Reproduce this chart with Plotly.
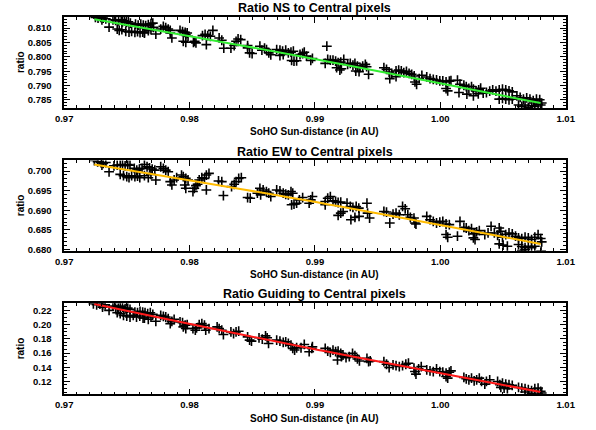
import plotly.graph_objects as go

# ---------------- Data ----------------
ns_x = [0.97249,0.97270,0.97291,0.97311,0.97332,0.97301,0.97389,0.97410,0.97358,
        0.97434,0.97455,0.97465,0.97481,0.97496,0.97512,0.97528,0.97423,0.97439,0.97460,
        0.97491,0.97517,0.97538,0.97564,0.97585,0.97605,0.97626,0.97640,
        0.97569,0.97590,0.97611,0.97631,0.97650,0.97671,0.97692,0.97707,
        0.97640,0.97671,0.97692,0.97713,0.97731,0.97770,0.97791,0.97810,0.97830,0.97846,
        0.97859,0.97846,0.97924,0.97944,0.97965,0.97981,0.97970,0.97988,0.97950,0.97970,
        0.98031,0.98051,0.98041,0.98103,0.98124,0.98145,0.98166,0.98186,0.98134,
        0.98236,0.98257,0.98273,0.98330,0.98356,0.98371,0.98387,0.98408,
        0.98463,0.98479,0.98499,0.98463,0.98561,0.98577,0.98598,0.98614,0.98632,0.98648,
        0.98695,0.98721,0.98742,0.98767,0.98788,0.98809,0.98828,0.98721,0.98747,
        0.98814,0.98833,0.98854,
        0.98881,0.98902,0.98915,0.98933,0.98967,0.98980,0.99095,
        0.99082,0.99102,0.99123,0.99144,0.99165,0.99185,0.99206,0.99230,
        0.99173,0.99199,0.99211,
        0.99261,0.99282,0.99303,0.99319,0.99339,0.99360,0.99381,0.99402,0.99412,
        0.99326,0.99352,0.99428,
        0.99550,0.99571,0.99592,0.99613,
        0.99647,0.99668,0.99689,0.99709,0.99730,0.99751,0.99772,0.99792,
        0.99597,0.99647,0.99798,0.99811,0.99832,0.99853,
        0.99892,0.99918,0.99944,0.99970,0.99996,1.00020,1.00046,1.00072,1.00085,
        1.00046,1.00059,1.00137,1.00157,
        1.00188,1.00207,1.00228,1.00249,1.00264,1.00285,1.00306,1.00322,
        1.00149,1.00212,1.00264,1.00303,1.00342,1.00368,1.00394,
        1.00418,1.00444,1.00470,1.00496,1.00522,1.00548,1.00574,
        1.00470,1.00496,1.00522,1.00548,1.00574,
        1.00611,1.00637,1.00663,1.00689,1.00715,1.00741,1.00767,1.00793,
        1.00624,1.00650,1.00676,1.00702,1.00728,1.00754,1.00780,1.00801,1.00809]
ns_y = [0.81368,0.81345,0.81368,0.81345,0.81322,0.81287,0.81287,0.81264,0.81034,
        0.81253,0.81287,0.81218,0.81253,0.81195,0.81218,0.81172,0.80966,0.80920,0.80943,
        0.80885,0.80862,0.80885,0.80851,0.80874,0.80839,0.80862,0.80828,
        0.81138,0.81103,0.81138,0.81103,0.81080,0.81115,0.81149,0.81172,
        0.80851,0.80908,0.80943,0.81023,0.80793,0.80966,0.81057,0.81011,0.80966,0.80920,
        0.80655,0.80828,0.80920,0.80874,0.80851,0.80828,0.80770,0.80713,0.80540,0.80506,
        0.80506,0.80483,0.80540,0.80736,0.80782,0.80736,0.80713,0.80920,0.80425,
        0.80655,0.80575,0.80299,0.80299,0.80391,0.80540,0.80621,0.80598,
        0.80310,0.80138,0.80115,0.80391,0.80368,0.80230,0.80299,0.80253,0.80138,0.80069,
        0.80253,0.80230,0.80195,0.80230,0.80138,0.80161,0.80195,0.80046,0.80080,
        0.79874,0.79851,0.79862,
        0.80080,0.80115,0.80161,0.80023,0.79874,0.79943,0.80368,
        0.79770,0.79908,0.79885,0.79885,0.79851,0.79793,0.79816,0.79908,
        0.79621,0.79540,0.79586,
        0.79736,0.79770,0.79713,0.79770,0.79678,0.79632,0.79678,0.79736,0.79655,
        0.79506,0.79483,0.79391,
        0.79621,0.79563,0.79471,0.79425,
        0.79506,0.79540,0.79506,0.79448,0.79494,0.79425,0.79391,0.79333,
        0.79241,0.79310,0.79126,0.79046,0.79241,0.79356,
        0.79299,0.79241,0.79218,0.79195,0.79161,0.79161,0.79126,0.79149,0.79172,
        0.78897,0.78816,0.79184,0.79046,
        0.79011,0.78966,0.78897,0.78966,0.78874,0.78816,0.78851,0.78908,
        0.78759,0.78701,0.78644,0.78713,0.78736,0.78759,0.78805,
        0.78851,0.78805,0.78851,0.78874,0.78851,0.78816,0.78782,
        0.78529,0.78552,0.78529,0.78506,0.78529,
        0.78644,0.78586,0.78529,0.78575,0.78529,0.78471,0.78529,0.78506,
        0.78322,0.78276,0.78322,0.78241,0.78299,0.78276,0.78345,0.78322,0.78391]
ns_fit_x = [0.9724, 0.9888, 1.0080]
ns_fit_y = [0.8131, 0.8002, 0.7839]

ew_x = [0.97241,0.97267,0.97293,0.97311,0.97332,0.97301,0.97358,
        0.97397,0.97423,0.97447,0.97465,0.97486,0.97507,0.97525,
        0.97447,0.97473,0.97499,0.97517,0.97538,0.97564,0.97585,0.97603,
        0.97559,0.97579,0.97600,0.97621,0.97640,0.97661,0.97681,0.97702,0.97723,
        0.97640,0.97671,0.97692,0.97731,
        0.97770,0.97791,0.97810,0.97830,
        0.97846,0.97859,0.97877,0.97897,
        0.97936,0.97950,0.97970,0.97988,0.97962,0.97970,
        0.98027,0.98038,0.98051,0.98064,
        0.98077,0.98098,0.98119,0.98134,0.98155,0.98134,
        0.98231,0.98257,0.98270,
        0.98335,0.98356,0.98371,0.98392,0.98413,
        0.98463,0.98484,0.98541,0.98567,
        0.98561,0.98587,0.98613,0.98632,0.98648,
        0.98695,0.98721,0.98747,0.98767,0.98788,0.98809,0.98823,
        0.98814,0.98833,0.98854,
        0.98876,0.98902,0.98954,0.98967,0.98980,
        0.99082,0.99102,0.99123,0.99144,0.99165,0.99185,0.99206,0.99082,
        0.99185,0.99206,0.99225,
        0.99256,0.99282,0.99303,0.99329,0.99350,
        0.99287,0.99319,0.99352,
        0.99415,0.99420,0.99436,
        0.99550,0.99571,0.99597,0.99623,0.99647,0.99673,0.99699,0.99720,0.99741,0.99761,
        0.99790,0.99798,0.99806,
        0.99892,0.99918,0.99944,0.99970,0.99996,1.00020,1.00046,1.00072,
        1.00046,1.00059,1.00137,1.00157,
        1.00188,1.00207,1.00228,1.00249,1.00270,1.00290,1.00311,
        1.00264,1.00277,
        1.00355,1.00381,1.00405,1.00431,1.00457,
        1.00470,1.00483,1.00496,1.00522,1.00548,1.00574,
        1.00470,1.00501,1.00535,
        1.00600,1.00624,1.00650,1.00676,1.00702,1.00728,1.00754,1.00780,1.00801,1.00809,
        1.00624,1.00650,1.00676,1.00702,1.00728,1.00754,
        1.00650,1.00676,1.00804]
ew_y = [0.70270,0.70236,0.70219,0.70194,0.70219,0.70152,0.69983,
        0.70135,0.70152,0.70152,0.70169,0.70135,0.70169,0.70152,
        0.69916,0.69882,0.69857,0.69831,0.69882,0.69857,0.69873,0.69831,
        0.70068,0.70025,0.70051,0.70068,0.70169,0.70110,0.70084,0.70051,0.70025,
        0.69882,0.69831,0.69916,0.69772,
        0.70110,0.70068,0.70025,0.69983,
        0.69730,0.69646,0.69772,0.69831,
        0.69899,0.69857,0.69814,0.69772,0.69646,0.69561,
        0.69477,0.69561,0.69629,0.69662,
        0.69772,0.69831,0.69814,0.69899,0.69941,0.69519,
        0.69747,0.69730,0.69376,
        0.69603,0.69662,0.69730,0.69814,0.69831,
        0.69325,0.69308,0.69435,0.69392,
        0.69561,0.69519,0.69477,0.69435,0.69350,
        0.69519,0.69494,0.69435,0.69409,0.69392,0.69477,0.69435,
        0.69139,0.69156,0.69181,
        0.69266,0.69325,0.69181,0.69266,0.69350,
        0.69224,0.69308,0.69350,0.69240,0.69224,0.69198,0.69207,0.69139,
        0.68869,0.68928,0.68970,
        0.69181,0.69097,0.69072,0.69097,0.69055,
        0.68759,0.68819,0.68844,
        0.69181,0.68928,0.68802,
        0.68970,0.68954,0.68675,0.68903,0.68928,0.68886,0.69097,0.69038,0.68886,0.68819,
        0.68802,0.68675,0.68650,
        0.68844,0.68759,0.68717,0.68675,0.68700,0.68717,0.68650,0.68633,
        0.68380,0.68312,0.68338,0.68717,
        0.68565,0.68548,0.68481,0.68532,0.68397,0.68447,0.68481,
        0.68295,0.68253,
        0.68380,0.68422,0.68591,0.68422,0.68363,
        0.68548,0.68464,0.68312,0.68380,0.68422,0.68397,
        0.68143,0.68110,0.68084,
        0.68338,0.68295,0.68278,0.68312,0.68295,0.68253,0.68312,0.68380,0.68278,0.68194,
        0.68127,0.68076,0.68042,0.68084,0.68042,0.68084,
        0.67975,0.67992,0.67958]
ew_fit_x = [0.9724, 0.9888, 1.0080]
ew_fit_y = [0.7017, 0.6928, 0.6814]

gd_x = [0.97233,0.97259,0.97285,0.97306,0.97327,0.97306,0.97358,
        0.97389,0.97410,0.97431,0.97447,0.97465,0.97486,0.97507,0.97525,
        0.97423,0.97447,0.97473,0.97499,0.97525,0.97551,0.97577,0.97603,0.97629,
        0.97564,0.97585,0.97605,0.97626,0.97645,0.97666,0.97687,0.97707,
        0.97640,0.97671,0.97692,0.97731,
        0.97770,0.97791,0.97810,0.97830,
        0.97846,0.97859,0.97877,
        0.97924,0.97944,0.97965,0.97981,0.97950,0.97970,
        0.98027,0.98046,0.98056,0.98077,0.98098,0.98119,0.98129,0.98155,
        0.98220,0.98236,0.98257,0.98270,
        0.98330,0.98351,0.98371,0.98392,
        0.98463,0.98479,0.98494,
        0.98554,0.98580,0.98606,0.98619,0.98630,
        0.98695,0.98721,0.98747,0.98767,0.98788,0.98809,
        0.98823,0.98838,0.98854,
        0.98889,0.98915,0.98954,0.98975,0.98980,
        0.99082,0.99102,0.99123,0.99144,0.99165,0.99185,0.99206,
        0.99180,0.99211,
        0.99224,0.99248,0.99274,0.99300,0.99319,0.99339,0.99355,
        0.99415,0.99428,0.99441,
        0.99550,0.99571,0.99592,0.99623,0.99647,0.99673,0.99699,0.99725,0.99746,
        0.99790,0.99798,0.99806,0.99827,0.99848,
        0.99892,0.99918,0.99944,0.99970,0.99996,1.00020,1.00046,1.00072,1.00085,
        1.00046,1.00059,
        1.00188,1.00207,1.00228,1.00249,1.00270,1.00290,1.00311,1.00329,1.00355,1.00368,1.00394,
        1.00457,1.00475,1.00496,1.00522,1.00548,1.00574,
        1.00483,1.00509,1.00535,
        1.00624,1.00650,1.00676,1.00702,1.00728,1.00754,1.00780,1.00801,1.00809,
        1.00676,1.00728,1.00780]
gd_y = [0.22930,0.22791,0.22884,0.22698,0.22791,0.22465,0.22000,
        0.22605,0.22465,0.22326,0.22605,0.22465,0.22233,0.22326,0.22140,
        0.21674,0.21535,0.21302,0.21209,0.21070,0.21302,0.21070,0.21209,0.20930,
        0.21767,0.21674,0.21860,0.21767,0.21674,0.21535,0.21674,0.21442,
        0.20930,0.20744,0.21070,0.20465,
        0.21302,0.21163,0.21070,0.20837,
        0.20140,0.20465,0.20744,
        0.20372,0.20279,0.19907,0.20000,0.19674,0.19442,
        0.19442,0.19209,0.19535,0.20000,0.20140,0.19907,0.19209,0.19442,
        0.19674,0.19442,0.19209,0.18605,
        0.18977,0.18744,0.18977,0.19070,
        0.18279,0.17814,0.17674,
        0.18140,0.17953,0.18419,0.18140,0.17349,
        0.17814,0.17674,0.17488,0.17581,0.17349,0.17116,
        0.16651,0.16419,0.16744,
        0.16744,0.17209,0.16186,0.16651,0.16884,
        0.16651,0.16279,0.16093,0.16419,0.16186,0.16279,0.15953,
        0.15023,0.15488,
        0.15721,0.15349,0.15488,0.15953,0.15628,0.15163,0.14884,
        0.15256,0.14791,0.14884,
        0.14791,0.14419,0.13953,0.14326,0.14233,0.14093,0.14233,0.14419,0.14558,
        0.13860,0.13395,0.13023,0.13767,0.14093,
        0.13628,0.13488,0.13395,0.13767,0.13395,0.13302,0.13163,0.13302,0.13488,
        0.12698,0.12465,
        0.12558,0.12372,0.12233,0.12465,0.12093,0.12233,0.12465,0.12000,0.11628,0.12000,0.12233,
        0.12000,0.11535,0.11767,0.11628,0.11535,0.11442,
        0.11163,0.11070,0.10977,
        0.11163,0.11070,0.10977,0.10837,0.10698,0.10977,0.11070,0.10605,0.10372,
        0.10512,0.10326,0.10233]
gd_fit_x = [0.9724, 0.9888, 1.0080]
gd_fit_y = [0.2290, 0.1695, 0.1052]

titles = ["Ratio NS to Central pixels", "Ratio EW to Central pixels",
          "Ratio Guiding to Central pixels"]
x_title = "SoHO Sun-distance (in AU)"
y_title = "ratio"
x_range = [0.97, 1.01]
y_ranges = [[0.7822, 0.8139], [0.6797, 0.7027], [0.1019, 0.2302]]
y_dticks = [0.005, 0.005, 0.02]
y_minor = [0.001, 0.001, 0.005]
y_formats = [".3f", ".3f", ".2f"]
fit_colors = ["#33ee33", "#ffbb00", "#ff1a1a"]

# ---------------- Figure ----------------
W, H = 596, 430
fig = go.Figure()

series = [(ns_x, ns_y, ns_fit_x, ns_fit_y), (ew_x, ew_y, ew_fit_x, ew_fit_y),
          (gd_x, gd_y, gd_fit_x, gd_fit_y)]

# pixel layout of the plot boxes (top, bottom)
boxes = [(17, 109), (162, 253), (306, 398)]
left_px, right_px = 57, 575
font = dict(family="Liberation Sans, Arial, sans-serif", size=10, color="black", weight="bold")
tick_font = dict(font, size=9.5)

layout = dict(width=W, height=H, margin=dict(l=0, r=0, t=0, b=0),
              paper_bgcolor="white", plot_bgcolor="white", showlegend=False)
annotations = []
for i, (sx, sy, fx, fy) in enumerate(series):
    n = "" if i == 0 else str(i + 1)
    xa, ya = "x" + n, "y" + n
    fig.add_trace(go.Scatter(x=sx, y=sy, mode="markers", xaxis=xa, yaxis=ya,
                             marker=dict(symbol="cross-thin", size=7, color="black",
                                         line=dict(width=1.6, color="black"))))
    fig.add_trace(go.Scatter(x=fx, y=fy, mode="lines", xaxis=xa, yaxis=ya,
                             line=dict(color=fit_colors[i], width=2, shape="spline")))
    top, bot = boxes[i]
    layout["xaxis" + n] = dict(
        domain=[left_px / W, right_px / W], anchor=ya, range=x_range,
        dtick=0.01, tick0=0.97, tickformat=".2f", ticks="inside", ticklen=6,
        tickwidth=1, tickcolor="black", showline=True, linecolor="black", linewidth=1.5,
        mirror="ticks", showgrid=False, zeroline=False, tickfont=tick_font,
        ticklabelstandoff=1,
        minor=dict(ticks="inside", ticklen=3, dtick=0.001, tickcolor="black", showgrid=False))
    layout["yaxis" + n] = dict(
        domain=[1 - bot / H, 1 - top / H], anchor=xa, range=y_ranges[i],
        dtick=y_dticks[i], tick0=0.0, tickformat=y_formats[i], ticks="inside", ticklen=6,
        tickwidth=1, tickcolor="black", showline=True, linecolor="black", linewidth=1.5,
        mirror="ticks", showgrid=False, zeroline=False, tickfont=tick_font,
        ticklabelstandoff=9,
        minor=dict(ticks="inside", ticklen=3, dtick=y_minor[i], tickcolor="black", showgrid=False))
    cx = (left_px + right_px) / 2 / W
    annotations.append(dict(text=titles[i], x=cx, y=1 - (top - 9) / H, xref="paper", yref="paper",
                            showarrow=False, xanchor="center", yanchor="middle",
                            font=dict(family=font["family"], size=12.5, color="black", weight="bold")))
    annotations.append(dict(text=x_title, x=cx, y=1 - (bot + 24) / H, xref="paper", yref="paper",
                            showarrow=False, xanchor="center", yanchor="middle", font=font))
    annotations.append(dict(text=y_title, x=12 / W, y=1 - (top + bot) / 2 / H, xref="paper",
                            yref="paper", showarrow=False, textangle=-90,
                            xanchor="center", yanchor="middle", font=font))
layout["annotations"] = annotations
fig.update_layout(**layout)
fig.write_html("out.html")
